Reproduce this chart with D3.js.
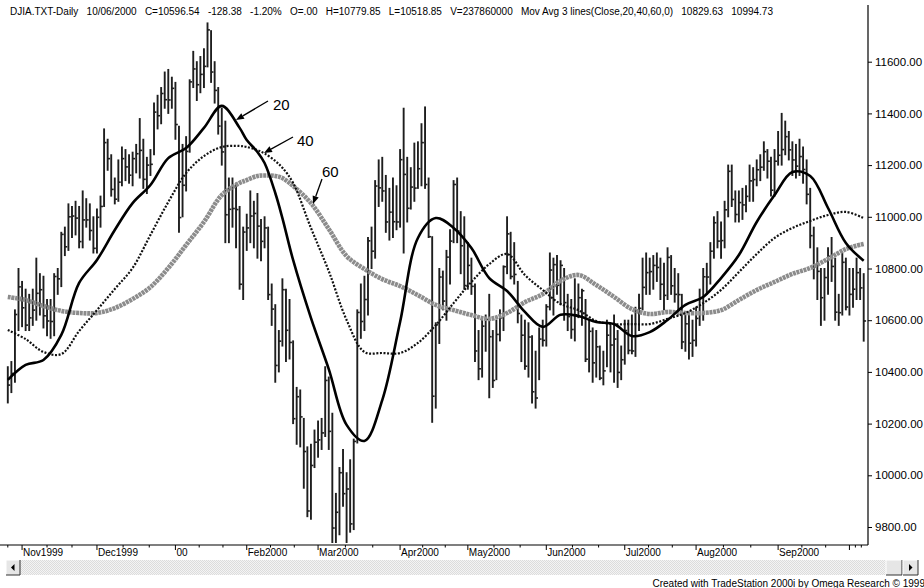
<!DOCTYPE html>
<html><head><meta charset="utf-8">
<script src="https://cdn.jsdelivr.net/npm/d3@7"></script>
<style>body{margin:0;background:#fff}svg{display:block}</style>
</head><body><svg id="c" width="924" height="588"></svg>
<script>
// ---- DATA ----
const highs=[10420,10440,10640,10800,10750,10720,10700,10720,10840,10780,
10770,10680,10680,10780,10800,10940,10960,11050,11040,11060,
11040,11100,11070,11050,11000,11030,11080,11340,11300,11240,
11150,11220,11270,11260,11240,11250,11280,11380,11300,11230,
11260,11440,11470,11500,11560,11570,11540,11520,11350,11280,
11310,11530,11640,11600,11620,11650,11750,11720,11600,11500,
11420,11370,11150,11150,11130,11040,10960,11010,11100,11060,
11090,10990,11000,10960,10740,10660,10560,10760,10720,10680,
10520,10340,10330,10220,10110,10120,10175,10210,10220,10420,
10380,10240,9930,10030,10100,10010,10060,10140,10640,10740,
10770,10920,10960,11140,11220,11230,11160,11110,11150,11120,
11260,11420,11230,11190,11285,11290,11360,11425,11150,10923,
10590,10800,10790,10870,10950,11140,11150,11020,11000,10900,
10840,10740,10560,10600,10620,10700,10560,10600,10640,10810,
11000,10940,10900,10750,10620,10600,10590,10540,10480,10570,
10600,10660,10860,10840,10850,10830,10800,10700,10680,10760,
10740,10720,10680,10600,10570,10560,10500,10480,10600,10580,
10620,10560,10500,10600,10600,10620,10650,10700,10840,10860,
10840,10850,10860,10840,10820,10880,10850,10800,10780,10700,
10620,10620,10600,10650,10720,10800,10820,10900,11000,11020,
10980,11060,11200,11200,11100,11100,11110,11120,11200,11190,
11220,11240,11290,11260,11230,11260,11330,11400,11370,11330,
11290,11280,11300,11270,11220,11110,10960,10880,10800,10800,
10880,10920,10840,10700,10860,10840,10800,10800,10840,10800,
10780];
const lows=[10280,10320,10360,10560,10575,10560,10560,10580,10600,10620,
10570,10540,10530,10540,10700,10730,10850,10870,10920,10930,
10880,10880,10960,10910,10860,10860,10960,11040,11180,11080,
11050,11060,11120,11140,11130,11120,11170,11150,11110,11090,
11160,11240,11340,11360,11420,11400,11420,11300,10940,11000,
11100,11250,11500,11450,11480,11500,11580,11520,11440,11320,
11200,10900,10900,10960,10880,10720,10680,10870,10900,10880,
10840,10830,10880,10680,10580,10360,10400,10500,10440,10450,
10200,10120,10110,9950,9840,9830,10030,10070,10100,10150,
10100,9740,9740,9770,9880,9740,9780,9790,10125,10530,
10560,10620,10800,10840,11040,11060,10940,10910,10920,10950,
10960,10860,10980,11030,11060,11110,11120,11110,10920,10205,
10260,10510,10640,10600,10740,10900,10900,10780,10720,10720,
10700,10440,10370,10380,10480,10300,10340,10370,10520,10560,
10780,10760,10740,10590,10440,10410,10380,10280,10260,10370,
10500,10500,10640,10620,10700,10660,10600,10560,10530,10520,
10610,10580,10440,10400,10360,10380,10370,10350,10420,10400,
10360,10340,10370,10430,10470,10470,10460,10560,10640,10700,
10700,10720,10750,10680,10640,10680,10700,10670,10620,10490,
10480,10450,10460,10500,10580,10600,10700,10740,10840,10880,
10840,10880,11000,11040,10980,10980,10990,11020,11060,11060,
11120,11140,11180,11150,11080,11080,11200,11200,11240,11220,
11160,11150,11160,11130,11050,10880,10760,10680,10580,10600,
10700,10750,10600,10580,10620,10640,10620,10650,10680,10680,
10519];
const closes=[10349,10394,10622,10729,10648,10581,10609,10639,10704,10718,
10617,10597,10595,10769,10760,10932,10884,11000,11003,10995,
10904,10988,10988,10947,10878,10998,11040,11287,11225,11106,
11068,11134,11225,11193,11161,11225,11244,11257,11145,11200,
11203,11405,11391,11477,11453,11452,11497,11357,10997,11122,
11253,11522,11572,11511,11551,11582,11723,11560,11489,11351,
11251,11008,11029,11032,11028,10739,10941,10957,11003,11013,
10964,10905,10957,10699,10643,10425,10519,10718,10561,10514,
10219,10304,10226,10092,9862,10038,10128,10137,10164,10367,
10170,9796,9857,10010,9929,9947,9812,10131,10630,10595,
10680,10907,10867,11119,11112,11100,10980,11018,10981,10980,
11221,11164,11033,11115,11111,11186,11287,11125,10923,10306,
10582,10767,10674,10844,10906,11125,10945,10888,10734,10812,
10731,10481,10412,10577,10603,10536,10367,10545,10609,10807,
10934,10769,10777,10626,10542,10422,10535,10323,10299,10527,
10522,10652,10794,10815,10735,10812,10668,10614,10564,10621,
10687,10714,10449,10557,10435,10497,10376,10404,10542,10504,
10527,10398,10447,10560,10483,10481,10636,10646,10727,10784,
10788,10812,10804,10739,10696,10843,10733,10700,10699,10516,
10586,10511,10522,10607,10687,10768,10767,10867,10977,10906,
10908,11027,11176,11067,11009,11055,11046,11079,11139,11144,
11182,11192,11252,11215,11103,11215,11238,11260,11310,11259,
11220,11196,11233,11183,11087,10927,10808,10789,10687,10765,
10847,10808,10631,10629,10824,10651,10700,10720,10784,10725,
10597];
// moving averages, read at these bar numbers
const maIdx=[0,5,10,15,20,25,30,35,40,45,50,55,60,65,67,70,72,75,77,80,85,90,95,100,105,110,115,120,125,130,135,140,145,150,155,160,165,170,175,180,185,190,195,200,205,210,215,220,225,230,235,240];
const ma20=[10369,10427,10446,10543,10744,10833,10949,11053,11123,11227,11266,11344,11429,11344,11297,11251,11208,11092,10995,10833,10609,10411,10195,10133,10291,10593,10918,10995,10957,10879,10763,10713,10632,10574,10621,10616,10593,10585,10539,10554,10601,10659,10690,10763,10852,10980,11084,11173,11158,11034,10899,10830];
const ma40=[10562,10527,10477,10469,10558,10639,10721,10802,10930,11057,11169,11235,11270,11274,11270,11258,11245,11216,11190,11131,10957,10790,10601,10477,10473,10473,10512,10581,10666,10748,10817,10856,10775,10717,10663,10639,10597,10585,10585,10585,10605,10628,10666,10717,10786,10856,10918,10957,10984,11007,11019,10995];
const ma60=[10690,10678,10655,10636,10628,10628,10647,10682,10728,10802,10891,10980,11084,11131,11142,11158,11160,11158,11150,11119,11053,10953,10848,10798,10759,10732,10697,10659,10639,10620,10605,10628,10670,10701,10752,10775,10736,10690,10643,10624,10632,10628,10628,10639,10678,10717,10748,10779,10802,10837,10875,10895];
const monthIdx=[4,25,47,67,87,110,129,151,173,193,216,236];
const monthLabels=["Nov1999","Dec1999","00","Feb2000","Mar2000","Apr2000","May2000","Jun2000","Jul2000","Aug2000","Sep2000",""];
const yTicks=[9800,10000,10200,10400,10600,10800,11000,11200,11400,11600];
const headerParts=["DJIA.TXT-Daily","10/06/2000","C=10596.54","-128.38","-1.20%","O=.00","H=10779.85","L=10518.85","V=237860000","Mov Avg 3 lines(Close,20,40,60,0)","10829.63","10994.73"];
const maNames=["20","40","60"];
const credit="Created with TradeStation 2000i by Omega Research \u00A9 1999";

// ---- DRAW ----
const svg=d3.select("#c");
const font='"Liberation Sans", Arial, sans-serif';
const x=d3.scaleLinear().domain([0,240]).range([7.8,863.7]);
const y=d3.scaleLinear().domain([9800,11600]).range([527,61.7]);
const axisX=868, axisBottom=545;

// header
const hdr=svg.append("g").attr("font-family",font).attr("font-size",10).attr("fill","#000");
const hts=headerParts.map(t=>hdr.append("text").attr("y",15).text(t));
const widths=hts.map(t=>t.node().getComputedTextLength());
const total=d3.sum(widths), gap=(773-10-total)/(headerParts.length-1);
let cx=10; hts.forEach((t,i)=>{t.attr("x",cx); cx+=widths[i]+gap;});

// bars
const bars=svg.append("g").attr("stroke","#1e1e1e");
highs.forEach((h,i)=>{
  bars.append("line").attr("x1",x(i)).attr("x2",x(i)).attr("y1",y(h)-0.5).attr("y2",y(lows[i])+0.5).attr("stroke-width",1.9);
  bars.append("line").attr("x1",x(i)).attr("x2",x(i)+2.4).attr("y1",y(closes[i])).attr("y2",y(closes[i])).attr("stroke-width",1.6);
});

// moving averages
const line=vals=>d3.line().x((d,i)=>x(maIdx[i])).y(d=>y(d)).curve(d3.curveCatmullRom.alpha(0.5))(vals);
svg.append("path").attr("d",line(ma60)).attr("fill","none").attr("stroke","#8c8c8c").attr("stroke-width",4.6).attr("stroke-dasharray","3,0.7");
svg.append("path").attr("d",line(ma40)).attr("fill","none").attr("stroke","#111").attr("stroke-width",2.2).attr("stroke-dasharray","2,1.6");
svg.append("path").attr("d",line(ma20)).attr("fill","none").attr("stroke","#000").attr("stroke-width",2.6).attr("stroke-linejoin","round");

// annotations
const ann=[{t:maNames[0],tx:273,ty:110,x1:268,y1:101,x2:236,y2:120},
           {t:maNames[1],tx:297,ty:146,x1:293,y1:137,x2:264,y2:153},
           {t:maNames[2],tx:322,ty:177,x1:322,y1:179,x2:313,y2:204}];
const ag=svg.append("g");
ann.forEach(a=>{
  ag.append("text").attr("x",a.tx).attr("y",a.ty).attr("font-family",font).attr("font-size",15).text(a.t);
  const ang=Math.atan2(a.y2-a.y1,a.x2-a.x1), L=8, W=3.2;
  const bx=a.x2-L*Math.cos(ang), by=a.y2-L*Math.sin(ang);
  ag.append("line").attr("x1",a.x1).attr("y1",a.y1).attr("x2",bx).attr("y2",by).attr("stroke","#000").attr("stroke-width",1.3);
  const px=-Math.sin(ang)*W, py=Math.cos(ang)*W;
  ag.append("path").attr("d",`M${a.x2},${a.y2}L${bx+px},${by+py}L${bx-px},${by-py}Z`).attr("fill","#000");
});

// right price axis
svg.append("line").attr("x1",axisX).attr("x2",axisX).attr("y1",5).attr("y2",axisBottom).attr("stroke","#000").attr("stroke-width",1.2);
const ya=svg.append("g").attr("transform",`translate(${axisX},0)`)
  .call(d3.axisRight(y).tickValues(yTicks).tickFormat(d3.format(".2f")).tickSize(4).tickPadding(3));
ya.select(".domain").remove();
ya.selectAll("text").attr("font-family",font).attr("font-size",11.5).attr("fill","#000");
ya.selectAll("line").attr("stroke","#000");

// bottom time axis
svg.append("line").attr("x1",0).attr("x2",axisX).attr("y1",axisBottom).attr("y2",axisBottom).attr("stroke","#000").attr("stroke-width",1.2);
const xg=svg.append("g").attr("font-family",font).attr("font-size",10);
monthIdx.forEach((m,i)=>{
  xg.append("line").attr("x1",x(m)).attr("x2",x(m)).attr("y1",axisBottom).attr("y2",axisBottom+5).attr("stroke","#000");
  xg.append("text").attr("x",x(m)+1).attr("y",axisBottom+11).text(monthLabels[i]);
  const nxt=i<monthIdx.length-1?monthIdx[i+1]:241;
  [1/3,2/3].forEach(f=>{const mi=m+(nxt-m)*f; if(mi<=240)
    xg.append("line").attr("x1",x(mi)).attr("x2",x(mi)).attr("y1",axisBottom).attr("y2",axisBottom+2.5).attr("stroke","#000");});
});
xg.append("line").attr("x1",x(0)).attr("x2",x(0)).attr("y1",axisBottom).attr("y2",axisBottom+2.5).attr("stroke","#000");

// scrollbar
const defs=svg.append("defs");
const pat=defs.append("pattern").attr("id","chk").attr("width",2).attr("height",2).attr("patternUnits","userSpaceOnUse");
pat.append("rect").attr("width",2).attr("height",2).attr("fill","#f4f4f4");
pat.append("rect").attr("width",1).attr("height",1).attr("fill","#dcdcdc");
pat.append("rect").attr("x",1).attr("y",1).attr("width",1).attr("height",1).attr("fill","#dcdcdc");
svg.append("rect").attr("x",6).attr("y",560).attr("width",912).attr("height",15).attr("fill","url(#chk)");
function btn(bx,w,dir){
  svg.append("rect").attr("x",bx).attr("y",560).attr("width",w).attr("height",15).attr("fill","#e6e6e6");
  svg.append("path").attr("d",`M${bx},575V560H${bx+w}`).attr("stroke","#fff").attr("fill","none");
  svg.append("path").attr("d",`M${bx+w},560V575H${bx}`).attr("stroke","#333").attr("fill","none");
  if(dir){const c=bx+w/2;
    svg.append("path").attr("d",dir<0?`M${c-2},567.5L${c+1.5},564L${c+1.5},571Z`:`M${c+2},567.5L${c-1.5},564L${c-1.5},571Z`).attr("fill","#000");}
}
btn(6,14,-1); btn(886,16,0); btn(903,15,1);
svg.append("text").attr("x",925).attr("y",587).attr("text-anchor","end").attr("font-family",font).attr("font-size",10).text(credit);
</script></body></html>
